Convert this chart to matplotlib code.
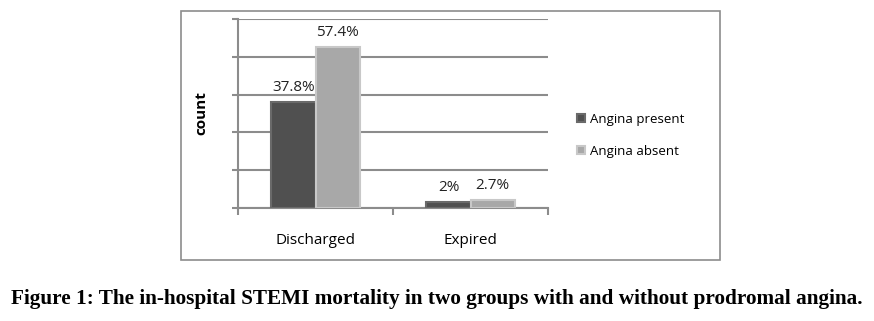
import numpy as np
import matplotlib.pyplot as plt
from matplotlib.patches import Rectangle

categories = ["Discharged", "Expired"]
angina_present = [37.8, 2.0]
angina_absent = [57.4, 2.7]
present_labels = ["37.8%", "2%"]
absent_labels = ["57.4%", "2.7%"]

fig = plt.figure(figsize=(8.74, 3.21), dpi=100)

# outer chart frame
fig.patches.append(Rectangle((181 / 874, 1 - 260 / 321), (720 - 181) / 874, (260 - 11) / 321,
                             transform=fig.transFigure, fill=False, edgecolor="#8c8c8c", lw=1.2))

ax = fig.add_axes([238 / 874, 1 - 208 / 321, 310 / 874, 189 / 321])
x = np.arange(len(categories))
w = 0.284

b1 = ax.bar(x - w / 2, angina_present, w, color="#505050", edgecolor="#6a6a6a", lw=1.5,
            label="Angina present", zorder=3)
b2 = ax.bar(x + w / 2, angina_absent, w, color="#a8a8a8", edgecolor="#c8c8c8", lw=1.5,
            label="Angina absent", zorder=3)

for bars, labels in [(b1, present_labels), (b2, absent_labels)]:
    for rect, txt in zip(bars, labels):
        ax.text(rect.get_x() + rect.get_width() / 2, rect.get_height() + 2.5, txt,
                ha="center", va="bottom", fontsize=11, family="Open Sans", color="#222222")

ax.set_xlim(-0.5, 1.5)
ax.set_ylim(0, 67.5)
ax.set_yticks(np.linspace(0, 67.5, 6))
ax.set_yticklabels([])
ax.set_xticks([-0.5, 0.5, 1.5], minor=False)
ax.set_xticklabels([])
ax.set_xticks(x, minor=True)
ax.set_xticklabels(categories, minor=True, fontsize=11, family="Open Sans")
ax.tick_params(axis="x", which="minor", length=0, pad=18)
ax.tick_params(axis="x", which="major", length=5, color="#8c8c8c", width=1.5)
ax.tick_params(axis="y", length=4, color="#8c8c8c", width=1.5)
ax.grid(axis="y", color="#8c8c8c", lw=1.5, zorder=0)

for s in ["top", "right"]:
    ax.spines[s].set_visible(False)
ax.spines["left"].set_color("#8c8c8c")
ax.spines["left"].set_linewidth(1.5)
ax.spines["bottom"].set_color("#8c8c8c")
ax.spines["bottom"].set_linewidth(1.5)

ax.set_ylabel("count", fontsize=11, fontweight="bold", family="Open Sans", labelpad=14)

ax.legend(loc="center left", bbox_to_anchor=(1.055, 0.385), frameon=False,
          prop={"family": "Open Sans", "size": 9.5}, handlelength=0.6, handleheight=0.6,
          labelspacing=1.45, handletextpad=0.4)

fig.text(0.5, 1 - 299 / 321, "Figure 1: The in-hospital STEMI mortality in two groups with and without prodromal angina.",
         ha="center", va="center", fontsize=15.3, fontweight="bold", family="Liberation Serif")

fig.savefig("out.png", dpi=100)
